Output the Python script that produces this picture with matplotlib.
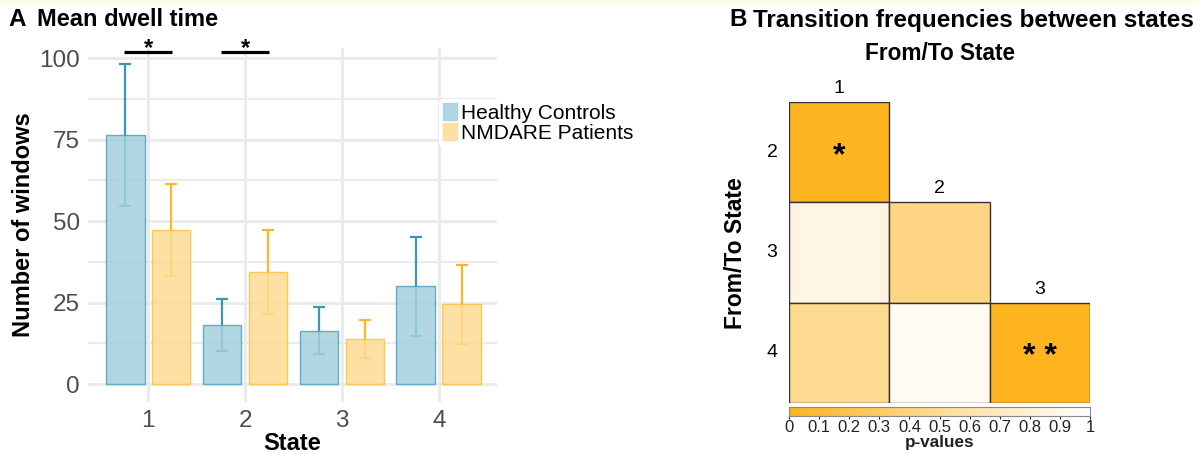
import matplotlib.pyplot as plt
import matplotlib.patches as mpatches
from matplotlib.colors import LinearSegmentedColormap
import numpy as np

plt.rcParams['font.family'] = ['Liberation Sans', 'DejaVu Sans']

# dwell time data
states = [1, 2, 3, 4]
hc_mean = [76.3, 18.2, 16.2, 30.1]
hc_low = [54.5, 10.1, 9.1, 14.9]
hc_high = [98.3, 26.2, 23.6, 45.0]
nm_mean = [47.2, 34.5, 13.8, 24.5]
nm_low = [33.1, 21.5, 7.9, 12.4]
nm_high = [61.3, 47.3, 19.6, 36.5]
sig_states = [1, 2]

# transition p-values (lower triangle)
from_state = [2, 3, 3, 4, 4, 4]
to_state = [1, 1, 2, 1, 2, 3]
p_values = [0.02, 0.86, 0.42, 0.48, 0.94, 0.01]
stars = {(2, 1): '*', (4, 3): '* *'}

W, H = 1199, 454
fig = plt.figure(figsize=(W / 100, H / 100), dpi=100)
fig.patches.append(mpatches.Rectangle((0, 1 - 4 / H), 1, 4 / H, transform=fig.transFigure,
                                      color='#FFFDE9', zorder=0))

# ---------- panel A ----------
ax = fig.add_axes([88 / W, 1 - 402 / H, (497 - 88) / W, (402 - 48) / H])
x = np.array(states, dtype=float)
off, bw = 0.237, 0.4
hc_col, hc_edge, hc_err = '#A2D1DD', '#4FA3BD', '#3B98B2'
nm_col, nm_edge, nm_err = '#FDDC94', '#FDC23E', '#FCB626'

for xs, m, lo, hi, fc, ec, erc in [
        (x - off, hc_mean, hc_low, hc_high, hc_col, hc_edge, hc_err),
        (x + off, nm_mean, nm_low, nm_high, nm_col, nm_edge, nm_err)]:
    m = np.array(m); lo = np.array(lo); hi = np.array(hi)
    ax.errorbar(xs, m, yerr=[m - lo, hi - m], fmt='none', ecolor=erc, elinewidth=1.6,
                capsize=4, capthick=1.6, zorder=2)
    ax.bar(xs, m, width=bw, color=fc, alpha=0.85, edgecolor=ec, linewidth=1.0, zorder=3)

for s in sig_states:
    ax.plot([s - 0.247, s + 0.247], [101.8, 101.8], color='black', lw=2.3,
            solid_capstyle='butt', clip_on=False, zorder=4)
    ax.text(s, 100.9, '*', ha='center', va='baseline', fontsize=17, fontweight='bold',
            clip_on=False)

ax.set_xlim(0.38, 4.6)
ax.set_ylim(-5.5, 103.1)
ax.set_yticks([0, 25, 50, 75, 100])
ax.set_yticks([12.5, 37.5, 62.5, 87.5], minor=True)
ax.set_xticks(states)
ax.grid(True, which='major', color='#EBEBEB', lw=2.2, zorder=0)
ax.grid(True, which='minor', axis='y', color='#EBEBEB', lw=1.6, zorder=0)
ax.set_axisbelow(True)
for sp in ax.spines.values():
    sp.set_visible(False)
ax.tick_params(which='both', length=0, labelsize=17.5, colors='#4D4D4D', pad=6)
ax.set_xlabel('State', fontsize=17, fontweight='bold', labelpad=0)
ax.set_ylabel('Number of windows', fontsize=17, fontweight='bold', labelpad=3)

handles = [mpatches.Patch(color=hc_col, alpha=0.85, label='Healthy Controls'),
           mpatches.Patch(color=nm_col, alpha=0.85, label='NMDARE Patients')]
leg = fig.legend(handles=handles, loc='upper left', bbox_to_anchor=(439 / W, 1 - 99 / H),
                 frameon=True, fontsize=15, handlelength=0.65, handleheight=0.9,
                 handletextpad=0.2, labelspacing=0.0, borderpad=0.2, borderaxespad=0)
leg.get_frame().set_edgecolor('none')
leg.get_frame().set_facecolor('white')
leg.get_frame().set_alpha(1)

fig.text(8 / W, 1 - 20 / H, 'A', fontsize=17.5, fontweight='bold', va='center')
fig.text(37 / W, 1 - 20 / H, 'Mean dwell time', fontsize=17, fontweight='bold', va='center')

# ---------- panel B ----------
cmap = LinearSegmentedColormap.from_list('pv', ['#FDB31C', '#FEDC95', '#FFFFFF'])
bx = fig.add_axes([789 / W, 1 - 403 / H, 301 / W, 301 / H])
for f, t, p in zip(from_state, to_state, p_values):
    bx.add_patch(mpatches.Rectangle((t - 0.5, f - 0.5), 1, 1, facecolor=cmap(p),
                                    edgecolor='#333333', lw=1.0))
    if (f, t) in stars:
        bx.text(t, f + 0.04, stars[(f, t)], ha='center', va='center', fontsize=23, fontweight='bold')
for k in [1, 2, 3]:
    bx.text(k, k + 0.5 - 0.05, str(k), ha='center', va='bottom', fontsize=14)
    bx.text(0.33, k + 1, str(k + 1), ha='center', va='center', fontsize=14)
bx.set_xlim(0.5, 3.5)
bx.set_ylim(4.5, 1.5)
bx.axis('off')

fig.text(735 / W, 1 - 253 / H, 'From/To State', rotation=90, fontsize=16.5,
         fontweight='bold', ha='center', va='center')
fig.text(729 / W, 1 - 20 / H, 'B', fontsize=17.5, fontweight='bold', va='center')
fig.text(753 / W, 1 - 20 / H, 'Transition frequencies between states', fontsize=17.5,
         fontweight='bold', va='center')
fig.text(940 / W, 1 - 53 / H, 'From/To State', fontsize=16.3, fontweight='bold',
         ha='center', va='center')

cax = fig.add_axes([789 / W, 1 - 416 / H, 301 / W, 9 / H])
grad = np.linspace(0, 1, 256)[None, :]
cax.imshow(grad, aspect='auto', cmap=cmap, extent=[0, 1, 0, 1])
cax.set_yticks([])
cax.set_xticks(np.round(np.arange(0, 1.01, 0.1), 1))
cax.set_xticklabels(['0'] + ['%.1f' % v for v in np.arange(0.1, 0.95, 0.1)] + ['1'])
cax.tick_params(axis='x', length=2, labelsize=12, colors='#222222', pad=1)
for sp in cax.spines.values():
    sp.set_color('#888888')
    sp.set_linewidth(0.8)
cax.set_xlabel('p-values', fontsize=12.3, fontweight='bold', labelpad=0, color='#222222')

fig.savefig('out.png', dpi=100)
